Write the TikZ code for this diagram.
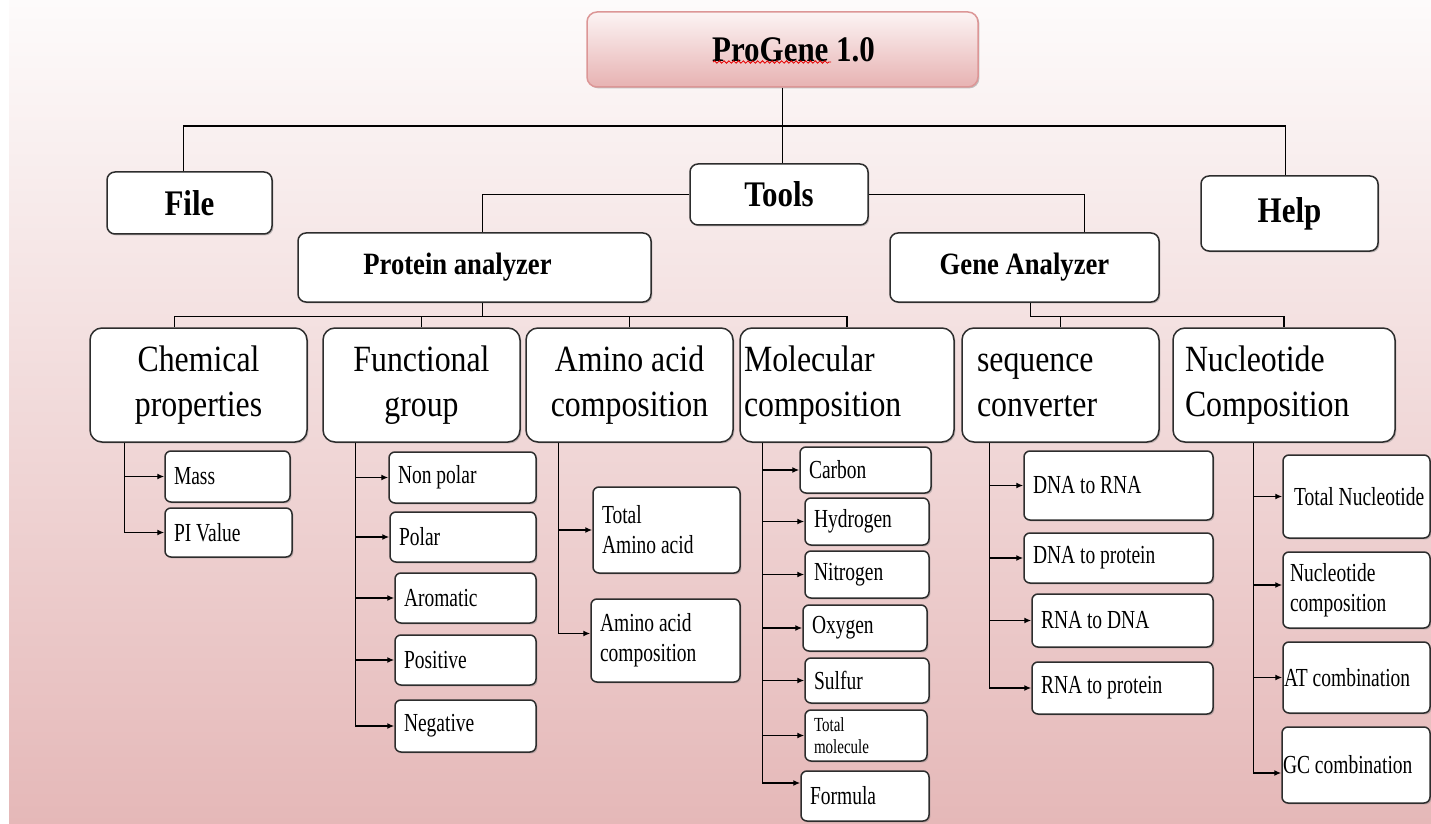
\documentclass[tikz,border=0pt]{standalone}
\usepackage{fontspec}
\setmainfont{Liberation Serif}[FakeStretch=0.86]
\newfontfamily\leaffont{Liberation Serif}[FakeStretch=0.75]
\usetikzlibrary{positioning}
\usetikzlibrary{arrows.meta,decorations.pathmorphing,shadows}
\hyphenpenalty=10000

\definecolor{bgtop}{RGB}{253,251,251}
\definecolor{bgbot}{RGB}{229,184,184}
\definecolor{roottop}{RGB}{252,244,244}
\definecolor{rootbot}{RGB}{231,178,178}
\definecolor{rootline}{RGB}{220,150,150}
\definecolor{boxline}{RGB}{45,45,45}

\tikzset{
  box/.style={draw=boxline, line width=0.75pt, fill=white, rounded corners=4pt, inner sep=0pt,
              drop shadow={shadow xshift=0.7pt, shadow yshift=-0.7pt, fill=black!50, opacity=0.45}},
  menu/.style={box, font=\bfseries\fontsize{18}{22}\selectfont},
  analyzer/.style={box, font=\bfseries\fontsize{15.5}{19}\selectfont},
  group/.style={box, rounded corners=6pt, font=\fontsize{18.5}{22.5}\selectfont},
  leaf/.style={box, rounded corners=3pt, align=flush left, inner xsep=4.5pt,
               font=\leaffont\fontsize{13}{15}\selectfont},
  link/.style={line width=0.7pt},
  arr/.style={link, -{Latex[length=3.5pt,width=3pt]}},
  elbow/.style={to path={|- (\tikztotarget) \tikztonodes}},
}

\begin{document}
\begin{tikzpicture}[x=0.5pt,y=-0.5pt]
    \useasboundingbox (0,0) rectangle (1431,824);
    \fill[white] (0,0) rectangle (1431,824);
    \shade[top color=bgtop, bottom color=bgbot] (9,0) rectangle (1431,824);

    % menu bar
    \node[box, draw=rootline, top color=roottop, bottom color=rootbot, rounded corners=5pt,
          minimum width=195.5pt, minimum height=37.5pt,
          font=\bfseries\fontsize{18}{22}\selectfont] (root) at (782.5,49.5) {\hspace*{11pt}ProGene 1.0};
    \draw[red!90!black, line width=0.4pt, decorate,
          decoration={snake, amplitude=0.6pt, segment length=2.4pt}] (713,62) -- (831,62);

    \node[menu, minimum width=82.5pt, minimum height=31pt]   (file)  at (189.5,203)   {File};
    \node[menu, minimum width=89pt, minimum height=30.5pt]   (tools) at (779,194.5)   {Tools};
    \node[menu, minimum width=88.5pt, minimum height=37.5pt] (help)  at (1289.5,213.5) {Help};

    \node[analyzer, minimum width=176.5pt, minimum height=34.5pt] (prot) at (474.5,267.5)  {Protein analyzer\hspace*{17pt}};
    \node[analyzer, minimum width=134.5pt, minimum height=34.5pt] (gene) at (1024.5,267.5) {Gene Analyzer};

    % tool groups
    \node[group, align=center, minimum width=108.5pt, minimum height=57pt] (chem)  at (198.5,385) {Chemical\\properties};
    \node[group, align=center, minimum width=98.5pt, minimum height=57pt]  (func)  at (421.5,385) {Functional\\group};
    \node[group, align=center, minimum width=103.5pt, minimum height=57pt] (amino) at (629.5,385) {Amino acid\\composition};
    \node[group, align=left, inner xsep=2pt, text width=103pt, minimum height=57pt]   (molec) at (847,385)    {Molecular\\composition};
    \node[group, align=left, inner xsep=7.5pt, text width=83.5pt, minimum height=57pt] (seqc)  at (1060.5,385) {sequence\\converter};
    \node[group, align=left, inner xsep=6pt, text width=99pt, minimum height=57pt]     (nucl)  at (1284,385)   {Nucleotide\\Composition};

    % chemical properties
    \node[leaf, text width=53.5pt, minimum height=25.5pt] (mass)  at (227.5,476.5) {Mass};
    \node[leaf, text width=54.5pt, minimum height=24.5pt] (pival) at (228.5,532.5) {PI Value};

    % functional group
    \node[leaf, text width=64.5pt, minimum height=25.5pt] (nonpol) at (462.5,477.5) {Non polar};
    \node[leaf, text width=64pt, minimum height=25pt]     (polar)  at (463,537)     {Polar};
    \node[leaf, text width=61.5pt, minimum height=25pt]   (arom)   at (465.5,598)   {Aromatic};
    \node[leaf, text width=61.5pt, minimum height=25pt]   (posit)  at (465.5,660)   {Positive};
    \node[leaf, text width=61.5pt, minimum height=26pt]   (negat)  at (465.5,726)   {Negative};

    % amino acid composition
    \node[leaf, text width=64.5pt, minimum height=43pt]   (totaa)  at (666.5,530)   {Total\\Amino acid};
    \node[leaf, text width=65.5pt, minimum height=41.5pt] (aacomp) at (665.5,640.5) {Amino acid\\composition};

    % molecular composition
    \node[leaf, text width=56.5pt, minimum height=23pt]   (carbon)  at (865.5,470)   {Carbon};
    \node[leaf, text width=53pt, minimum height=23.5pt]   (hydro)   at (867,521.5)   {Hydrogen};
    \node[leaf, text width=53pt, minimum height=23.5pt]   (nitro)   at (867,574.5)   {Nitrogen};
    \node[leaf, text width=53pt, minimum height=23pt]     (oxy)     at (865,628)     {Oxygen};
    \node[leaf, text width=53pt, minimum height=22.5pt]   (sulf)    at (867,680.5)   {Sulfur};
    \node[leaf, text width=52pt, minimum height=25.5pt,
          font=\leaffont\fontsize{10}{11}\selectfont]     (totmol)  at (866,735.5)   {Total\\molecule};
    \node[leaf, text width=55pt, minimum height=25pt]     (formula) at (865,796)     {Formula};

    % sequence converter
    \node[leaf, text width=85.5pt, minimum height=34.5pt] (dnarna)  at (1118.5,485.5) {DNA to RNA};
    \node[leaf, text width=85.5pt, minimum height=25pt]   (dnaprot) at (1118.5,558)   {DNA to protein};
    \node[leaf, text width=81.5pt, minimum height=26.5pt] (rnadna)  at (1122.5,620.5) {RNA to DNA};
    \node[leaf, text width=81.5pt, minimum height=26pt]   (rnaprot) at (1122.5,688)   {RNA to protein};

    % nucleotide composition
    \node[leaf, inner xsep=5.5pt, text width=62.5pt, minimum height=41.5pt] (totnuc)  at (1356.5,496.5) {\mbox{Total Nucleotide}};
    \node[leaf, inner xsep=3.5pt, text width=66.5pt, minimum height=38pt]   (nuccomp) at (1356.5,590)   {Nucleotide\\composition};
    \node[leaf, inner xsep=0.5pt, text width=72.5pt, minimum height=35.5pt] (atcomb)  at (1356.5,677.5) {AT combination};
    \node[leaf, inner xsep=0.5pt, text width=73pt, minimum height=38pt]     (gccomb)  at (1356,765)     {GC combination};

    % connectors
    \coordinate (bar) at (782,126);
    \draw[link] (root.south) -- (root.south |- tools.north);
    \draw[link] ([xshift=-3pt]file.north) |- (bar) -| ([xshift=-2pt]help.north);
    \draw[link] (tools.west) -| ([xshift=4pt]prot.north);
    \draw[link] (tools.east) -| ([xshift=30pt]gene.north);

    \draw[link] ([xshift=4pt]prot.south) -- ++(0,14) coordinate (pj);
    \draw[link] ([xshift=-12pt]chem.north) |- (pj) -| (molec.north);
    \draw[link] (func.north) -- (func.north |- pj);
    \draw[link] (amino.north) -- (amino.north |- pj);

    \draw[link] ([xshift=3pt]gene.south) -- ++(0,14) coordinate (gj);
    \draw[link] (gj) -| (nucl.north);
    \draw[link] (seqc.north) -- (seqc.north |- gj);

    \path[arr] ([xshift=17.5pt]chem.south west) edge[elbow] (mass.west)
                                                edge[elbow] (pival.west);
    \path[arr] ([xshift=16.5pt]func.south west) edge[elbow] (nonpol.west)
                                                edge[elbow] (polar.west)
                                                edge[elbow] (arom.west)
                                                edge[elbow] (posit.west)
                                                edge[elbow] (negat.west);
    \path[arr] ([xshift=16.5pt]amino.south west) edge[elbow] (totaa.west)
                                                 edge[elbow] ([yshift=3.5pt]aacomp.west);
    \path[arr] ([xshift=11.5pt]molec.south west) edge[elbow] (carbon.west)
                                                 edge[elbow] (hydro.west)
                                                 edge[elbow] (nitro.west)
                                                 edge[elbow] (oxy.west)
                                                 edge[elbow] (sulf.west)
                                                 edge[elbow] (totmol.west)
                                                 edge[elbow] ([yshift=6.5pt]formula.west);
    \path[arr] ([xshift=14pt]seqc.south west) edge[elbow] (dnarna.west)
                                              edge[elbow] (dnaprot.west)
                                              edge[elbow] (rnadna.west)
                                              edge[elbow] (rnaprot.west);
    \path[arr] ([xshift=40.5pt]nucl.south west) edge[elbow] (totnuc.west)
                                                edge[elbow] ([yshift=2.5pt]nuccomp.west)
                                                edge[elbow] (atcomb.west)
                                                edge[elbow] ([yshift=-4pt]gccomb.west);
\end{tikzpicture}
\end{document}
